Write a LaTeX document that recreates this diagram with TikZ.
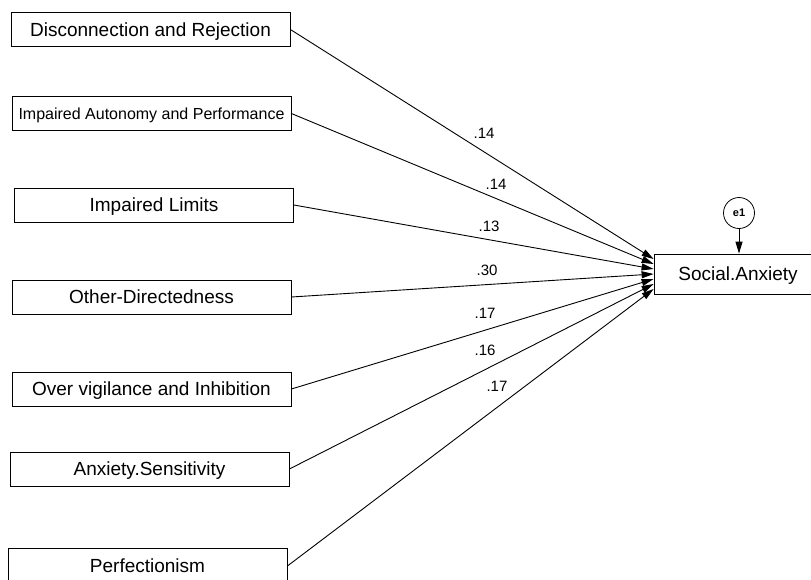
\documentclass[tikz,border=0pt]{standalone}
\usepackage{fontspec}
\setmainfont{Liberation Sans}
\usetikzlibrary{arrows.meta}

\begin{document}
\begin{tikzpicture}[x=1pt,y=-1pt,
  var/.style={draw, line width=0.8pt, minimum width=279pt, minimum height=34pt, inner sep=0pt, text height=13.6pt, text depth=0pt, font=\fontsize{19}{21}\selectfont},
  reg/.style={-{Triangle[length=12pt,width=7pt]}, line width=0.9pt},
  coef/.style={font=\fontsize{15}{17}\selectfont, inner sep=0pt}]

\useasboundingbox (0,0) rectangle (811,579);

\node[var] (dr) at (150.5,29.5) {Disconnection and Rejection};
\node[var, text height=11.5pt, font=\fontsize{16}{18}\selectfont] (iap) at (151.5,113.5) {Impaired Autonomy and Performance};
\node[var] (il) at (154,205) {Impaired Limits};
\node[var] (od) at (151.5,297) {Other-Directedness};
\node[var] (ovi) at (151.5,389) {Over vigilance and Inhibition};
\node[var] (as) at (149.5,469) {Anxiety.Sensitivity};
\node[var, minimum height=36pt] (pf) at (147.5,566) {Perfectionism};

\node[var, minimum width=168pt, minimum height=40pt] (sa) at (738,274) {Social.Anxiety};
\node[draw, circle, line width=0.8pt, minimum size=31pt, inner sep=0pt, font=\fontsize{11}{12}\selectfont\bfseries] (e1) at (739,213) {e1};
\draw[reg] (e1) -- (e1 |- sa.north);

\draw[reg] (dr.east) -- ([yshift=15pt]sa.west);
\draw[reg] (iap.east) -- ([yshift=10pt]sa.west);
\draw[reg] (il.east) -- ([yshift=5pt]sa.west);
\draw[reg] (od.east) -- (sa.west);
\draw[reg] (ovi.east) -- ([yshift=-5pt]sa.west);
\draw[reg] (as.east) -- ([yshift=-10pt]sa.west);
\draw[reg] (pf.east) -- ([yshift=-15pt]sa.west);

\node[coef] (c1) at (484,133) {.14};
\node[coef] (c2) at (496,184) {.14};
\node[coef] (c3) at (489,226) {.13};
\node[coef] (c4) at (487,270) {.30};
\node[coef] (c5) at (485,313) {.17};
\node[coef] (c6) at (485,350) {.16};
\node[coef] (c7) at (497,386) {.17};
\end{tikzpicture}
\end{document}
